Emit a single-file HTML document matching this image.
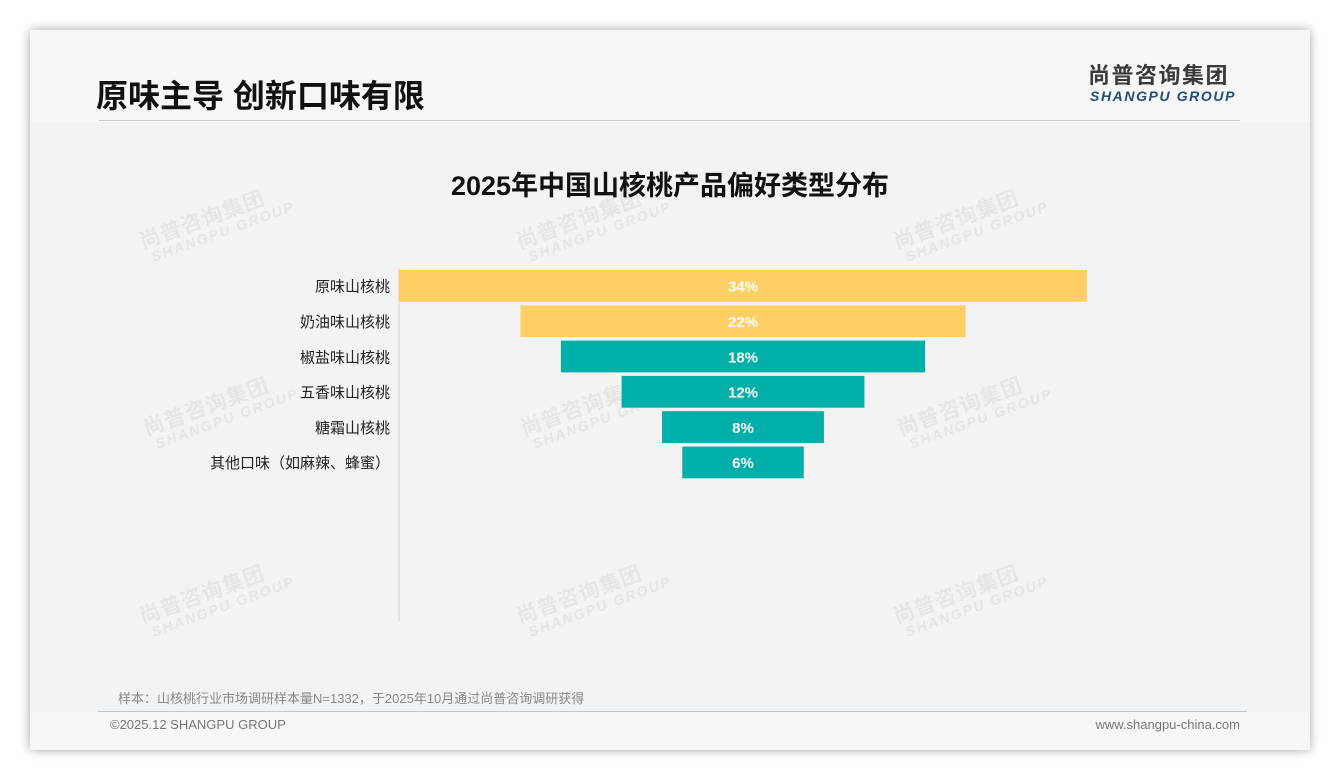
<!DOCTYPE html>
<html><head><meta charset="utf-8">
<style>
*{margin:0;padding:0;box-sizing:border-box}
body{width:1340px;height:780px;background:#fff;position:relative;overflow:hidden;font-family:"Liberation Sans","Noto Sans CJK SC",sans-serif}
#card{position:absolute;left:30px;top:30px;width:1280px;height:720px;background:#f3f3f3;box-shadow:0 0 10px rgba(0,0,0,0.35)}
#hdr{position:absolute;left:0;top:0;width:1280px;height:92px;background:#f7f7f7}
#ftr{position:absolute;left:0;top:682px;width:1280px;height:38px;background:#f7f7f7}
.wm{position:absolute;color:#e6e6e6;transform:rotate(-20deg);font-weight:bold;line-height:1}
.wm .a{font-size:21px;letter-spacing:1px}
.wm .b{font-size:14px;letter-spacing:2px;font-style:italic;margin-left:6px}
</style></head><body>
<div id="card">
<div id="hdr"></div>
<div id="ftr"></div>
</div>
<div class="wm" style="left:138px;top:205px"><div class="a">尚普咨询集团</div><div class="b">SHANGPU GROUP</div></div>
<div class="wm" style="left:515px;top:205px"><div class="a">尚普咨询集团</div><div class="b">SHANGPU GROUP</div></div>
<div class="wm" style="left:892px;top:205px"><div class="a">尚普咨询集团</div><div class="b">SHANGPU GROUP</div></div>
<div class="wm" style="left:142px;top:392px"><div class="a">尚普咨询集团</div><div class="b">SHANGPU GROUP</div></div>
<div class="wm" style="left:519px;top:392px"><div class="a">尚普咨询集团</div><div class="b">SHANGPU GROUP</div></div>
<div class="wm" style="left:896px;top:392px"><div class="a">尚普咨询集团</div><div class="b">SHANGPU GROUP</div></div>
<div class="wm" style="left:138px;top:580px"><div class="a">尚普咨询集团</div><div class="b">SHANGPU GROUP</div></div>
<div class="wm" style="left:515px;top:580px"><div class="a">尚普咨询集团</div><div class="b">SHANGPU GROUP</div></div>
<div class="wm" style="left:892px;top:580px"><div class="a">尚普咨询集团</div><div class="b">SHANGPU GROUP</div></div>

<div style="position:absolute;left:96px;top:75px;font-size:32px;font-weight:bold;color:#111;line-height:42px">原味主导 创新口味有限</div>
<div style="position:absolute;left:99px;top:120px;width:1141px;height:1px;background:#c8c8c8"></div>
<div style="position:absolute;left:1088px;top:63px;font-size:22px;font-weight:bold;color:#3a3a3a;letter-spacing:1.5px;line-height:25px">尚普咨询集团</div>
<div style="position:absolute;left:1090px;top:87px;font-size:14px;font-weight:bold;font-style:italic;color:#1f4e79;letter-spacing:1.6px;line-height:18px">SHANGPU GROUP</div>

<div style="position:absolute;left:0;width:1340px;top:168px;text-align:center;font-size:27px;font-weight:bold;color:#111;line-height:36px">2025年中国山核桃产品偏好类型分布</div>

<svg id="chart" style="position:absolute;left:0;top:0" width="1340" height="780"></svg>

<div style="position:absolute;left:118px;top:688px;font-size:13px;color:#888">样本：山核桃行业市场调研样本量N=1332，于2025年10月通过尚普咨询调研获得</div>
<div style="position:absolute;left:98px;top:711px;width:1149px;height:1px;background:#b8c8d8"></div>
<div style="position:absolute;left:110px;top:717px;font-size:13px;color:#777">©2025.12 SHANGPU GROUP</div>
<div style="position:absolute;right:100px;top:717px;font-size:13px;color:#777">www.shangpu-china.com</div>

<script>
const categories=["原味山核桃","奶油味山核桃","椒盐味山核桃","五香味山核桃","糖霜山核桃","其他口味（如麻辣、蜂蜜）"];
const values=[34,22,18,12,8,6];
const colors=["#FFCF66","#FFCF66","#00B0A8","#00B0A8","#00B0A8","#00B0A8"];
const NS="http://www.w3.org/2000/svg";
const svg=document.getElementById('chart');
const axisX=399,top0=268,band=35.3,cx=743,maxV=34,maxW=688;
const xs=v=>v/maxV*maxW;
const ys=i=>top0+i*band;
const ax=document.createElementNS(NS,'line');
ax.setAttribute('x1',axisX);ax.setAttribute('x2',axisX);ax.setAttribute('y1',top0);ax.setAttribute('y2',621);
ax.setAttribute('stroke','#d0d0d0');ax.setAttribute('stroke-width','1');


svg.appendChild(ax);
values.forEach((v,i)=>{
 const w=xs(v),y=ys(i);
 const r=document.createElementNS(NS,'rect');
 r.setAttribute('x',cx-w/2);r.setAttribute('y',y+2);r.setAttribute('width',w);r.setAttribute('height',band-3.5);
 r.setAttribute('fill',colors[i]);
 
 
 svg.appendChild(r);
 const t=document.createElementNS(NS,'text');
 t.setAttribute('x',cx);t.setAttribute('y',y+band/2+6);t.setAttribute('text-anchor','middle');
 t.setAttribute('fill','#fff');t.setAttribute('font-size','15');t.setAttribute('font-weight','bold');
 t.setAttribute('font-family','Liberation Sans, sans-serif');
 t.textContent=v+'%';
 
 
 svg.appendChild(t);
 const c=document.createElementNS(NS,'text');
 c.setAttribute('x',390);c.setAttribute('y',y+band/2+6);c.setAttribute('text-anchor','end');
 c.setAttribute('fill','#222');c.setAttribute('font-size','15');
 c.setAttribute('font-family','Liberation Sans, Noto Sans CJK SC, sans-serif');
 c.textContent=categories[i];
 
 
 svg.appendChild(c);
});
</script>
</body></html>
